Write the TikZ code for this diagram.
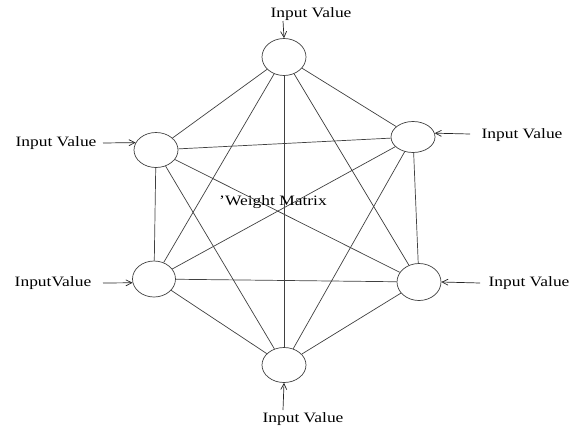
\documentclass[tikz,border=0pt]{standalone}
\usepackage{fontspec}
\setmainfont[FakeStretch=1.22]{Liberation Serif}
\usetikzlibrary{shapes.geometric,arrows.meta}
\begin{document}
\begin{tikzpicture}[x=1pt,y=-1pt,
  neuron/.style={draw=black!75,line width=0.7pt,ellipse,inner sep=0pt,minimum width=44pt,minimum height=35pt},
  link/.style={draw=black!75,line width=0.7pt},
  inarrow/.style={draw=black!85,line width=0.7pt,-{Straight Barb[length=6pt,width=6pt]}},
  lbl/.style={font=\fontsize{14.3}{16}\selectfont,inner sep=0pt,text=black}]
\useasboundingbox (0,0) rectangle (572,431);
\node[neuron,minimum height=37pt] (t) at (284,57) {};
\node[neuron] (ul) at (156,150) {};
\node[neuron,minimum height=31pt] (ur) at (413,137) {};
\node[neuron,minimum width=43pt,minimum height=36pt] (ll) at (154,279) {};
\node[neuron,minimum height=37pt] (lr) at (419,282) {};
\node[neuron] (b) at (284,365) {};
\foreach \a/\b in {t/ul,t/ur,t/ll,t/lr,t/b,ul/ur,ul/ll,ul/lr,ul/b,ur/ll,ur/lr,ur/b,ll/lr,ll/b,lr/b}
  \draw[link] (\a) -- (\b);
\node[lbl] (lt) at (311,14) {Input Value};
\node[lbl] (lul) at (56,143) {Input Value};
\node[lbl] (lur) at (522,135) {Input Value};
\node[lbl] (lll) at (53,283) {InputValue};
\node[lbl] (llr) at (529,283) {Input Value};
\node[lbl] (lb) at (303,419) {Input Value};
\node[lbl] (wm) at (273,202) {'Weight Matrix};
\coordinate (at) at (283,21);
\coordinate (aul) at (103,143);
\coordinate (aur) at (470,134);
\coordinate (all) at (103,283);
\coordinate (alr) at (480,283);
\coordinate (ab) at (283,410);
\draw[inarrow] (at) -- (t.north);
\draw[inarrow] (aul) -- (ul.160);
\draw[inarrow] (aur) -- (ur.10);
\draw[inarrow] (all) -- (ll.190);
\draw[inarrow] (alr) -- (lr.east);
\draw[inarrow] (ab) -- (b.south);
\end{tikzpicture}
\end{document}
